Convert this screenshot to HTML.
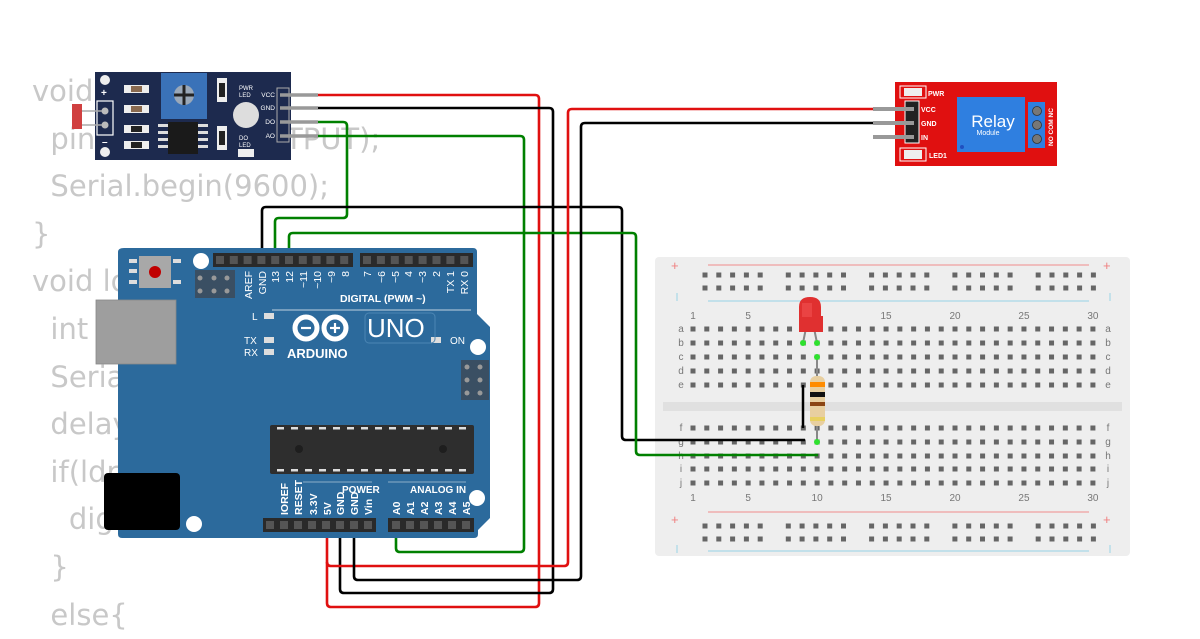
<!DOCTYPE html>
<html><head><meta charset="utf-8">
<style>
html,body{margin:0;padding:0;background:#fff;width:1200px;height:630px;overflow:hidden}
.code{position:absolute;font-family:"DejaVu Sans","Liberation Sans",sans-serif;font-size:29px;color:#c8c8c8;white-space:pre;line-height:47.6px;left:32px;top:68px}
svg{position:absolute;left:0;top:0}
</style></head><body>
<div class="code">void setup(){
  pinMode(13, OUTPUT);
  Serial.begin(9600);
}
void loop(){
  int ldr = analogRead(A0);
  Serial.println(ldr);
  delay(100);
  if(ldr &gt; 500){
    digitalWrite(12, HIGH);
  }
  else{</div>
<svg id="s" width="1200" height="630" viewBox="0 0 1200 630" xmlns="http://www.w3.org/2000/svg" font-family="Liberation Sans, sans-serif">
<!-- Breadboard -->
<rect x="655" y="257" width="475" height="299" rx="4" fill="#eeeeee"/>
<rect x="663" y="402" width="459" height="9" fill="#e0e0e0"/>
<line x1="708" y1="265" x2="1089" y2="265" stroke="#f0a0a0" stroke-width="1.2"/>
<line x1="708" y1="301" x2="1089" y2="301" stroke="#a8d8e8" stroke-width="1.2"/>
<line x1="708" y1="512" x2="1089" y2="512" stroke="#f0a0a0" stroke-width="1.2"/>
<line x1="708" y1="551" x2="1089" y2="551" stroke="#a8d8e8" stroke-width="1.2"/>
<g fill="#f08080" font-size="13"><text x="671" y="270">+</text><text x="1103" y="270">+</text><text x="671" y="524">+</text><text x="1103" y="524">+</text></g>
<g stroke="#a8d8e8" stroke-width="1.2"><line x1="677" y1="293" x2="677" y2="301"/><line x1="1110" y1="293" x2="1110" y2="301"/><line x1="677" y1="545" x2="677" y2="553"/><line x1="1110" y1="545" x2="1110" y2="553"/></g>
<g id="holes" fill="#666"></g>
<g id="bblabels" fill="#777" font-size="10" text-anchor="middle"></g>

<!-- Wires -->
<g fill="none" stroke-width="2.6" stroke-linejoin="round">
<path d="M318 95 H535 Q539 95 539 99 V603 Q539 607 535 607 H331 Q327 607 327 603 V525" stroke="#e01010"/>
<path d="M318 108 H549 Q553 108 553 112 V589 Q553 593 549 593 H344 Q340 593 340 589 V525" stroke="#000"/>
<path d="M318 136 H520 Q524 136 524 140 V548 Q524 552 520 552 H400 Q396 552 396 548 V525" stroke="#008000"/>
<path d="M318 122 H343 Q347 122 347 126 V214 Q347 218 343 218 H279 Q275 218 275 222 V262" stroke="#008000"/>
<path d="M262 262 V211 Q262 207 266 207 H618 Q622 207 622 211 V436 Q622 440 626 440 H805" stroke="#000"/>
<path d="M289 262 V237 Q289 233 293 233 H632 Q636 233 636 237 V451 Q636 455 640 455 H818" stroke="#008000"/>
<path d="M875 109 H572 Q568 109 568 113 V562 Q568 566 564 566 H331 Q327 566 327 562" stroke="#e01010"/>
<path d="M875 123 H585 Q581 123 581 127 V576 Q581 580 577 580 H358 Q354 580 354 576 V525" stroke="#000"/>
</g>

<!-- LDR module -->
<rect x="95" y="72" width="196" height="88" fill="#1d2a4e"/>
<circle cx="105" cy="80" r="5" fill="#eee"/><circle cx="105" cy="152" r="5" fill="#eee"/>
<text x="101" y="96" fill="#fff" font-size="10" font-weight="bold">+</text>
<text x="102" y="145" fill="#fff" font-size="10" font-weight="bold">–</text>
<rect x="97" y="101" width="16" height="34" fill="none" stroke="#fff" stroke-width="1.2"/>
<circle cx="105" cy="111" r="3.5" fill="#bbb"/><circle cx="105" cy="125" r="3.5" fill="#bbb"/>
<line x1="82" y1="111" x2="102" y2="111" stroke="#aaa" stroke-width="1.5"/><line x1="82" y1="125" x2="102" y2="125" stroke="#aaa" stroke-width="1.5"/>
<rect x="72" y="104" width="10" height="25" fill="#d04040"/>
<g fill="#eee"><rect x="124" y="85" width="25" height="8"/><rect x="124" y="105" width="25" height="8"/><rect x="124" y="125" width="25" height="8"/><rect x="124" y="141" width="25" height="8"/></g>
<g fill="#8a6a50"><rect x="131" y="86" width="11" height="6"/><rect x="131" y="106" width="11" height="6"/></g>
<g fill="#222"><rect x="131" y="126" width="11" height="6"/><rect x="131" y="142" width="11" height="6"/></g>
<rect x="161" y="73" width="46" height="46" fill="#3a72b8"/>
<circle cx="184" cy="95" r="10" fill="#9aa8b8"/><line x1="174" y1="95" x2="194" y2="95" stroke="#222" stroke-width="3"/><line x1="184" y1="85" x2="184" y2="105" stroke="#222" stroke-width="3"/>
<rect x="168" y="122" width="30" height="32" fill="#1a1a1a"/>
<g fill="#ddd"><rect x="158" y="124" width="10" height="3"/><rect x="158" y="131" width="10" height="3"/><rect x="158" y="138" width="10" height="3"/><rect x="158" y="145" width="10" height="3"/><rect x="198" y="124" width="10" height="3"/><rect x="198" y="131" width="10" height="3"/><rect x="198" y="138" width="10" height="3"/><rect x="198" y="145" width="10" height="3"/></g>
<rect x="217" y="78" width="10" height="24" fill="#eee"/><rect x="219" y="83" width="6" height="14" fill="#222"/>
<rect x="217" y="126" width="10" height="24" fill="#eee"/><rect x="219" y="131" width="6" height="14" fill="#222"/>
<circle cx="246" cy="115" r="13" fill="#ddd"/>
<text x="239" y="90" fill="#fff" font-size="6">PWR</text><text x="239" y="97" fill="#fff" font-size="6">LED</text>
<text x="239" y="140" fill="#fff" font-size="6">DO</text><text x="239" y="147" fill="#fff" font-size="6">LED</text>
<rect x="238" y="149" width="16" height="8" fill="#eee"/>
<g fill="#fff" font-size="6.5" text-anchor="end"><text x="275" y="97">VCC</text><text x="275" y="110">GND</text><text x="275" y="124">DO</text><text x="275" y="138">AO</text></g>
<rect x="277" y="88" width="12" height="54" fill="#1d2a4e" stroke="#aaa" stroke-width="1"/>
<g stroke="#999" stroke-width="3.5"><line x1="280" y1="95" x2="318" y2="95"/><line x1="280" y1="108" x2="318" y2="108"/><line x1="280" y1="122" x2="318" y2="122"/><line x1="280" y1="136" x2="318" y2="136"/></g>

<!-- Relay module -->
<rect x="895" y="82" width="162" height="84" fill="#e01010"/>
<rect x="900" y="86" width="26" height="12" fill="none" stroke="#fff" stroke-width="1"/><rect x="904" y="88" width="18" height="8" fill="#eee"/>
<rect x="900" y="148" width="26" height="13" fill="none" stroke="#fff" stroke-width="1"/><rect x="904" y="150" width="18" height="9" fill="#eee"/>
<text x="928" y="96" fill="#fff" font-size="7" font-weight="bold">PWR</text>
<text x="929" y="158" fill="#fff" font-size="7" font-weight="bold">LED1</text>
<rect x="905" y="101" width="14" height="42" fill="#222" stroke="#fff" stroke-width="1"/>
<g stroke="#999" stroke-width="4"><line x1="873" y1="109" x2="914" y2="109"/><line x1="873" y1="123" x2="914" y2="123"/><line x1="873" y1="137" x2="914" y2="137"/></g>
<g fill="#fff" font-size="7" font-weight="bold"><text x="921" y="112">VCC</text><text x="921" y="126">GND</text><text x="921" y="140">IN</text></g>
<rect x="957" y="97" width="68" height="55" fill="#2f7fe0"/>
<circle cx="962" cy="147" r="2" fill="#2050c0"/>
<text x="993" y="127" fill="#fff" font-size="17" text-anchor="middle">Relay</text>
<text x="988" y="135" fill="#fff" font-size="7" text-anchor="middle">Module</text>
<rect x="1028" y="102" width="17" height="46" fill="#2f7fe0"/>
<g fill="#777" stroke="#333" stroke-width="0.8"><circle cx="1037" cy="111" r="4.5"/><circle cx="1037" cy="125" r="4.5"/><circle cx="1037" cy="139" r="4.5"/></g>
<g fill="#fff" font-size="6.5" font-weight="bold"><text transform="translate(1053,146) rotate(-90)">NO COM NC</text></g>

<!-- Arduino -->
<path d="M124 248 H473 Q477 248 477 252 V314 L490 327 V518 L478 530 V534 Q478 538 474 538 H122 Q118 538 118 534 V252 Q118 248 124 248Z" fill="#2c6a9c"/>
<rect x="96" y="300" width="80" height="64" fill="#9e9e9e" stroke="#888" stroke-width="0.8"/>
<rect x="104" y="473" width="76" height="57" rx="4" fill="#000"/>
<rect x="139" y="256" width="32" height="32" fill="#a8a8a8"/>
<g fill="#ddd"><rect x="129" y="259" width="8" height="4"/><rect x="129" y="269" width="8" height="4"/><rect x="129" y="280" width="8" height="4"/><rect x="173" y="259" width="8" height="4"/><rect x="173" y="280" width="8" height="4"/></g>
<circle cx="155" cy="272" r="6" fill="#c00000"/>
<circle cx="201" cy="261" r="8" fill="#fff"/><circle cx="478" cy="347" r="8" fill="#fff"/><circle cx="477" cy="498" r="8" fill="#fff"/><circle cx="194" cy="524" r="8" fill="#fff"/>
<rect x="195" y="270" width="40" height="28" fill="#3a4f63"/>
<g fill="#999"><circle cx="200" cy="278" r="2.5"/><circle cx="214" cy="278" r="2.5"/><circle cx="227" cy="278" r="2.5"/><circle cx="200" cy="291" r="2.5"/><circle cx="214" cy="291" r="2.5"/><circle cx="227" cy="291" r="2.5"/></g>
<rect x="461" y="360" width="28" height="40" fill="#3a4f63"/>
<g fill="#999"><circle cx="467" cy="367" r="2.5"/><circle cx="480" cy="367" r="2.5"/><circle cx="467" cy="380" r="2.5"/><circle cx="480" cy="380" r="2.5"/><circle cx="467" cy="393" r="2.5"/><circle cx="480" cy="393" r="2.5"/></g>
<rect x="213" y="253" width="140" height="14" fill="#2a2a2a"/>
<rect x="360" y="253" width="113" height="14" fill="#2a2a2a"/>
<rect x="263" y="518" width="113" height="14" fill="#2a2a2a"/>
<rect x="388" y="518" width="86" height="14" fill="#2a2a2a"/>
<g id="hdr" fill="#555"></g>
<rect x="270" y="425" width="204" height="49" rx="2" fill="#2e2e2e"/>
<g fill="#1e1e1e"><circle cx="299" cy="449" r="4"/><circle cx="443" cy="449" r="4"/></g>
<g id="chipd" fill="#ddd"></g>
<g id="alabels" fill="#fff" font-size="10.5"></g>
<line x1="272" y1="310" x2="471" y2="310" stroke="#fff" stroke-width="1" opacity="0.7"/>
<text x="340" y="302" fill="#fff" font-size="10.5" font-weight="bold">DIGITAL (PWM ~)</text>
<g fill="#ddd"><rect x="264" y="313" width="10" height="6"/><rect x="264" y="337" width="10" height="6"/><rect x="264" y="349" width="10" height="6"/><rect x="431" y="337" width="10" height="6"/></g>
<g fill="#fff" font-size="10"><text x="252" y="320">L</text><text x="244" y="344">TX</text><text x="244" y="356">RX</text><text x="450" y="344">ON</text></g>
<g fill="none" stroke="#fff" stroke-width="5"><circle cx="306" cy="328" r="11"/><circle cx="335" cy="328" r="11"/></g>
<g stroke="#fff" stroke-width="2.2"><line x1="301" y1="328" x2="311" y2="328"/><line x1="330" y1="328" x2="340" y2="328"/><line x1="335" y1="323" x2="335" y2="333"/></g>
<rect x="365" y="313" width="70" height="30" rx="4" fill="none" stroke="#4c86b4" stroke-width="1"/>
<text x="367" y="337" fill="#fff" font-size="26">UNO</text>
<text x="287" y="358" fill="#fff" font-size="13" font-weight="bold">ARDUINO</text>
<line x1="303" y1="482" x2="372" y2="482" stroke="#fff" stroke-width="0.8" opacity="0.6"/>
<line x1="388" y1="482" x2="466" y2="482" stroke="#fff" stroke-width="0.8" opacity="0.6"/>
<text x="342" y="493" fill="#fff" font-size="10" font-weight="bold">POWER</text>
<text x="410" y="493" fill="#fff" font-size="10" font-weight="bold">ANALOG IN</text>

<!-- LED & resistor -->
<line x1="803" y1="385" x2="803" y2="428" stroke="#000" stroke-width="2.5"/>
<g stroke="#888" stroke-width="2"><line x1="806" y1="328" x2="803" y2="343"/><line x1="814" y1="328" x2="817" y2="343"/><line x1="817" y1="357" x2="817" y2="442"/></g>
<path d="M799 332 V307 Q799 297 810 297 Q821 297 821 307 V316 H823 V332 Z" fill="#e03030"/>
<rect x="802" y="303" width="10" height="14" fill="#f05050" opacity="0.6"/>
<rect x="810" y="376" width="15" height="50" rx="6" fill="#e8cfa0"/>
<rect x="810" y="382" width="15" height="5" fill="#ff8c00"/>
<rect x="810" y="392" width="15" height="5" fill="#111"/>
<rect x="810" y="402" width="15" height="4" fill="#8b4513"/>
<rect x="810" y="417" width="15" height="4" fill="#e8d060"/>
<g fill="#2ee02e"><circle cx="803" cy="343" r="3"/><circle cx="817" cy="343" r="3"/><circle cx="817" cy="357" r="3"/><circle cx="817" cy="442" r="3"/></g>
</svg>
<script>
var NS="http://www.w3.org/2000/svg";
function el(p,t,a,tx){var e=document.createElementNS(NS,t);for(var k in a)e.setAttribute(k,a[k]);if(tx!==undefined)e.textContent=tx;document.getElementById(p).appendChild(e);return e;}
var cx=function(n){return 693+(n-1)*13.79;};
var rowsT=[329,343,357,371,385],rowsB=[428,442,456,469,483],L="abcde",L2="fghij";
for(var n=1;n<=30;n++){for(var r=0;r<5;r++){el("holes","rect",{x:cx(n)-2.5,y:rowsT[r]-2.5,width:5,height:5});el("holes","rect",{x:cx(n)-2.5,y:rowsB[r]-2.5,width:5,height:5});}}
[275,288,526,539].forEach(function(y){for(var g=0;g<5;g++)for(var i=0;i<5;i++){var x=705+g*83.3+i*13.8;el("holes","rect",{x:x-2.5,y:y-2.5,width:5,height:5});}});
[1,5,10,15,20,25,30].forEach(function(n){if(n!=10)el("bblabels","text",{x:cx(n),y:319},n);el("bblabels","text",{x:cx(n),y:501},n);});
for(var r=0;r<5;r++){el("bblabels","text",{x:681,y:rowsT[r]+3},L[r]);el("bblabels","text",{x:1108,y:rowsT[r]+3},L[r]);el("bblabels","text",{x:681,y:rowsB[r]+3},L2[r]);el("bblabels","text",{x:1108,y:rowsB[r]+3},L2[r]);}
function pins(x0,y,n,sp){for(var i=0;i<n;i++){el("hdr","rect",{x:x0+i*sp-4,y:y-4,width:8,height:8});}}
pins(220,260,10,13.8);pins(367,260,8,13.9);pins(270,525,8,14);pins(396,525,6,14);
var top1=["AREF","GND","13","12","~11","~10","~9","8"],tx1=[248,262,275,289,303,317,331,345];
top1.forEach(function(s,i){el("alabels","text",{transform:"translate("+(tx1[i]+4)+",271) rotate(-90)","text-anchor":"end"},s);});
var top2=["7","~6","~5","4","~3","2","TX 1","RX 0"],tx2=[367,381,395,408,422,436,450,464];
top2.forEach(function(s,i){el("alabels","text",{transform:"translate("+(tx2[i]+4)+",271) rotate(-90)","text-anchor":"end"},s);});
var b1=["IOREF","RESET","3.3V","5V","GND","GND","Vin"],bx=[284,298,313,327,340,354,368];
b1.forEach(function(s,i){el("alabels","text",{transform:"translate("+(bx[i]+4)+",515) rotate(-90)","font-weight":"bold"},s);});
["A0","A1","A2","A3","A4","A5"].forEach(function(s,i){el("alabels","text",{transform:"translate("+(400+i*14)+",515) rotate(-90)","font-weight":"bold"},s);});
for(var i=0;i<14;i++){el("chipd","rect",{x:277+i*14,y:427,width:7,height:2.5});el("chipd","rect",{x:277+i*14,y:469,width:7,height:2.5});}
</script>
</body></html>
